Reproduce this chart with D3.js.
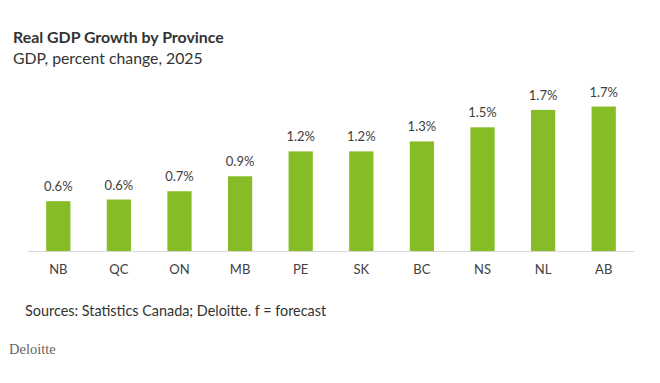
<!DOCTYPE html>
<html>
<head>
<meta charset="utf-8">
<script src="https://cdn.jsdelivr.net/npm/d3@7"></script>
<style>
  body { margin: 0; background: #fff; }
  text { font-family: Lato, "Open Sans", sans-serif; }
</style>
</head>
<body>
<div id="chart"></div>
<script>
// data
var provinces = ['NB', 'QC', 'ON', 'MB', 'PE', 'SK', 'BC', 'NS', 'NL', 'AB'];
var growth = [0.60, 0.62, 0.72, 0.90, 1.20, 1.20, 1.32, 1.49, 1.70, 1.74];
var labels = ['0.6%', '0.6%', '0.7%', '0.9%', '1.2%', '1.2%', '1.3%', '1.5%', '1.7%', '1.7%'];

var W = 660, H = 383;
var margin = {top: 80, right: 26, bottom: 132, left: 28};
var width = W - margin.left - margin.right,
    height = H - margin.top - margin.bottom;

var svg = d3.select('#chart').append('svg')
    .attr('width', W)
    .attr('height', H);

svg.append('text')
    .text('Real GDP Growth by Province')
    .attr('x', 13).attr('y', 43)
    .style('font-weight', 'bold')
    .style('font-size', '15.9px')
    .style('fill', '#333');

svg.append('text')
    .text('GDP, percent change, 2025')
    .attr('x', 13).attr('y', 64)
    .style('font-size', '15.8px')
    .style('fill', '#333');

var g = svg.append('g')
    .attr('transform', 'translate(' + margin.left + ',' + margin.top + ')');

var x = d3.scaleBand()
    .domain(provinces)
    .range([0, width])
    .paddingInner(0.6)
    .paddingOuter(0.3);

var y = d3.scaleLinear()
    .domain([0, 2.06])
    .range([height, 0]);

g.selectAll('.bar')
    .data(growth)
    .enter().append('rect')
    .attr('class', 'bar')
    .attr('x', function(d, i) { return x(provinces[i]); })
    .attr('width', x.bandwidth())
    .attr('y', function(d) { return y(d); })
    .attr('height', function(d) { return height - y(d); })
    .style('fill', '#86bc25');

g.selectAll('.val')
    .data(growth)
    .enter().append('text')
    .attr('class', 'val')
    .text(function(d, i) { return labels[i]; })
    .attr('text-anchor', 'middle')
    .attr('x', function(d, i) { return x(provinces[i]) + x.bandwidth() / 2; })
    .attr('y', function(d) { return y(d) - 10; })
    .style('font-size', '13px')
    .style('fill', '#404040');

var axis = g.append('g')
    .attr('transform', 'translate(0,' + height + ')')
    .call(d3.axisBottom(x).tickSize(0).tickPadding(14));
axis.select('.domain').attr('stroke', '#d9d9d9').attr('stroke-width', 1);
axis.selectAll('text')
    .style('font-family', 'Lato, "Open Sans", sans-serif')
    .style('font-size', '13px')
    .style('fill', '#404040');

svg.append('text')
    .text('Sources: Statistics Canada; Deloitte. f = forecast')
    .attr('x', 25).attr('y', 316)
    .style('font-size', '14.4px')
    .style('fill', '#333');

svg.append('text')
    .text('Deloitte')
    .attr('x', 9).attr('y', 354)
    .style('font-family', '"Liberation Serif", serif')
    .style('font-size', '14.5px')
    .style('fill', '#666');
</script>
</body>
</html>
